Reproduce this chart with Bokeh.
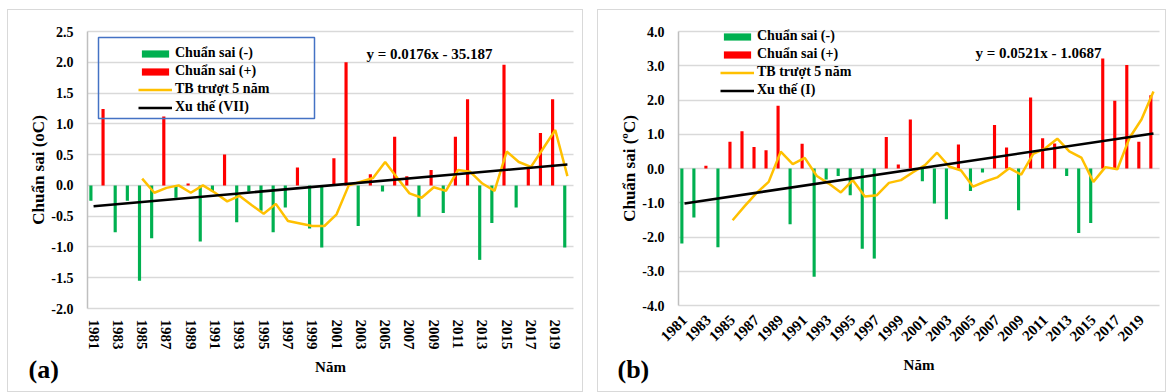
import math
from bokeh.plotting import figure
from bokeh.models import (FixedTicker, NumeralTickFormatter, Legend, LegendItem,
                          Label, BoxAnnotation, Range1d)
from bokeh.layouts import row
from bokeh.embed import file_html
from bokeh.resources import INLINE

# ---------------- data ----------------
years = list(range(1981, 2021))
tick_years = list(range(1981, 2020, 2))
ma_years = list(range(1985, 2021))

# panel (a) anomalies (oC)
anom_a = [-0.25, 1.24, -0.76, -0.25, -1.55, -0.86, 1.12, -0.20, 0.03, -0.91,
          -0.10, 0.50, -0.60, -0.10, -0.41, -0.76, -0.36, 0.29, -0.70, -1.01,
          0.44, 2.00, -0.66, 0.18, -0.10, 0.79, 0.15, -0.51, 0.25, -0.45,
          0.79, 1.40, -1.21, -0.61, 1.96, -0.36, 0.28, 0.85, 1.40, -1.01]
ma_a = [0.11, -0.12, -0.04, 0.00, -0.12, 0.00, -0.12, -0.26, -0.17, -0.32,
        -0.46, -0.30, -0.58, -0.62, -0.66, -0.66, -0.47, 0.00, 0.06, 0.12,
        0.38, 0.12, -0.13, -0.20, -0.03, -0.09, 0.25, 0.22, 0.03, -0.09,
        0.55, 0.38, 0.30, 0.60, 0.90, 0.15]
trend_a_years = [1981, 2020]
trend_a = [-0.34, 0.34]
eq_a = "y = 0.0176x - 35.187"

# panel (b) anomalies (ºC)
anom_b = [-2.19, -1.43, 0.08, -2.30, 0.78, 1.09, 0.63, 0.53, 1.83, -1.63,
          0.72, -3.16, -0.32, -0.22, -0.78, -2.34, -2.63, 0.92, 0.12, 1.43,
          -0.37, -1.02, -1.48, 0.70, -0.66, -0.12, 1.27, 0.61, -1.22, 2.07,
          0.88, 0.73, -0.22, -1.88, -1.59, 3.21, 1.98, 3.02, 0.78, 2.14]
ma_b = [-1.51, -1.10, -0.71, -0.39, 0.49, 0.13, 0.31, -0.22, -0.44, -0.70,
        -0.34, -0.82, -0.78, -0.42, -0.34, -0.11, 0.10, 0.46, 0.06, -0.06,
        -0.53, -0.38, -0.26, 0.01, -0.18, 0.43, 0.59, 0.87, 0.50, 0.32,
        -0.39, 0.04, -0.02, 0.89, 1.43, 2.25]
trend_b_years = [1981, 2020]
trend_b = [-1.02, 1.02]
eq_b = "y = 0.0521x - 1.0687"

yticks_a = [-2.0, -1.5, -1.0, -0.5, 0.0, 0.5, 1.0, 1.5, 2.0, 2.5]
yticks_b = [-4.0, -3.0, -2.0, -1.0, 0.0, 1.0, 2.0, 3.0, 4.0]

labels_a = ["Chuẩn sai (-)", "Chuẩn sai (+)", "TB trượt 5 năm", "Xu thế (VII)"]
labels_b = ["Chuẩn sai (-)", "Chuẩn sai (+)", "TB trượt 5 năm", "Xu thế (I)"]

FONT = "Liberation Serif"
GREEN = "#00b050"
RED = "#ff0000"
YELLOW = "#ffc000"
BAR_SHIFT = -0.22
X0, X1 = 1980.5, 2020.5      # category band edges
H = 383                      # canvas height of each panel


def make_panel(anom, ma, t_years, trend, yticks, ylabel, labels, eq, tag,
               width, plot_l, plot_r, plot_t, plot_b,
               orient, lab_standoff, xlab_standoff, leg_loc, eq_pos, tag_pos,
               box=None):
    # the frame covers the whole canvas; axes are drawn at fixed locations so
    # that every annotation (legend, panel tag) can sit anywhere un-clipped.
    xppu = (plot_r - plot_l) / (X1 - X0)
    yppu = (plot_b - plot_t) / (yticks[-1] - yticks[0])
    xr = Range1d(X0 - plot_l / xppu, X1 + (width - plot_r) / xppu)
    yr = Range1d(yticks[0] - (H - plot_b) / yppu, yticks[-1] + plot_t / yppu)

    p = figure(width=width, height=H, output_backend="svg",
               toolbar_location=None, x_range=xr, y_range=yr, min_border=0)
    p.outline_line_color = None
    p.background_fill_color = "white"
    p.border_fill_color = "white"

    p.xgrid.visible = False
    grid = p.ygrid[0]
    if "cross_bounds" in grid.properties():
        grid.ticker = FixedTicker(ticks=yticks)
        grid.cross_bounds = (X0, X1)
        grid.grid_line_color = "#d9d9d9"
        grid.grid_line_width = 1.5
    else:
        grid.visible = False
        p.segment(x0=[X0] * len(yticks), x1=[X1] * len(yticks), y0=yticks, y1=yticks,
                  line_color="#d9d9d9", line_width=1.5, level="underlay")

    p.yaxis.fixed_location = X0
    p.yaxis.ticker = FixedTicker(ticks=yticks)
    p.yaxis.bounds = (yticks[0], yticks[-1])
    p.yaxis.formatter = NumeralTickFormatter(format="0.0")
    p.yaxis.axis_line_color = "#bfbfbf"
    p.yaxis.axis_line_width = 1.5
    p.yaxis.major_tick_line_color = None
    p.yaxis.minor_tick_line_color = None
    p.yaxis.major_label_text_font = FONT
    p.yaxis.major_label_text_font_style = "bold"
    p.yaxis.major_label_text_font_size = "14px"
    p.yaxis.major_label_text_color = "black"
    p.yaxis.major_label_standoff = 8
    p.yaxis.axis_label = ylabel
    p.yaxis.axis_label_text_font = FONT
    p.yaxis.axis_label_text_font_style = "bold"
    p.yaxis.axis_label_text_font_size = "17px"
    p.yaxis.axis_label_text_color = "black"
    p.yaxis.axis_label_standoff = 0

    p.xaxis.fixed_location = yticks[0]
    p.xaxis.bounds = (X0, X1)
    p.xaxis.ticker = FixedTicker(ticks=tick_years)
    p.xaxis.axis_line_color = None
    p.xaxis.major_tick_line_color = None
    p.xaxis.minor_tick_line_color = None
    p.xaxis.major_label_orientation = orient
    p.xaxis.major_label_text_font = FONT
    p.xaxis.major_label_text_font_style = "bold"
    p.xaxis.major_label_text_font_size = "15px"
    p.xaxis.major_label_text_color = "black"
    p.xaxis.major_label_standoff = lab_standoff
    p.xaxis.axis_label = "Năm"
    p.xaxis.axis_label_text_font = FONT
    p.xaxis.axis_label_text_font_style = "bold"
    p.xaxis.axis_label_text_font_size = "15px"
    p.xaxis.axis_label_text_color = "black"
    p.xaxis.axis_label_standoff = xlab_standoff

    neg_x = [y + BAR_SHIFT for y, v in zip(years, anom) if v < 0]
    neg_v = [v for v in anom if v < 0]
    pos_x = [y + BAR_SHIFT for y, v in zip(years, anom) if v >= 0]
    pos_v = [v for v in anom if v >= 0]

    r_neg = p.vbar(x=neg_x, top=neg_v, bottom=0, width=0.26,
                   fill_color=GREEN, line_color=None)
    r_pos = p.vbar(x=pos_x, top=pos_v, bottom=0, width=0.26,
                   fill_color=RED, line_color=None)
    r_ma = p.line(ma_years, ma, line_color=YELLOW, line_width=2.5)
    r_tr = p.line(t_years, trend, line_color="black", line_width=2.6)

    legend = Legend(items=[LegendItem(label=labels[0], renderers=[r_neg]),
                           LegendItem(label=labels[1], renderers=[r_pos]),
                           LegendItem(label=labels[2], renderers=[r_ma]),
                           LegendItem(label=labels[3], renderers=[r_tr])],
                    location=leg_loc, border_line_color=None,
                    background_fill_alpha=0, padding=0, spacing=0, margin=0,
                    label_height=18, glyph_width=34, glyph_height=9,
                    label_standoff=3,
                    label_text_font=FONT, label_text_font_style="bold",
                    label_text_font_size="14px", label_text_color="black")
    p.add_layout(legend)

    if box is not None:
        p.add_layout(BoxAnnotation(left=box[0], right=box[1], bottom=box[2], top=box[3],
                                   left_units="screen", right_units="screen",
                                   bottom_units="screen", top_units="screen",
                                   fill_color=None, fill_alpha=0,
                                   line_color="#4472c4", line_alpha=1.0,
                                   line_width=1.5))

    p.add_layout(Label(x=eq_pos[0], y=eq_pos[1], x_units="screen", y_units="screen",
                       text=eq, text_align="center", text_baseline="middle",
                       text_font=FONT, text_font_style="bold", text_font_size="15px",
                       text_color="black"))
    p.add_layout(Label(x=tag_pos[0], y=tag_pos[1], x_units="screen", y_units="screen",
                       text=tag, text_align="left", text_baseline="middle",
                       text_font=FONT, text_font_style="bold", text_font_size="26px",
                       text_color="black"))

    p.styles = {"border": "1px solid #d9d9d9", "box-sizing": "border-box"}
    return p


# canvas of (a) starts at page (7, 9); plot band x 86..572, y 30..307 (page)
pa = make_panel(anom_a, ma_a, trend_a_years, trend_a, yticks_a, "Chuẩn sai (oC)",
                labels_a, eq_a, "(a)", 576, 79, 565, 21, 298,
                "vertical", 5, 6, (130, 277), (421, 340), (20, 24),
                box=(90, 306, 275, 356))
# canvas of (b) starts at page (597, 9); plot band x 677..1158, y 30..304 (page)
pb = make_panel(anom_b, ma_b, trend_b_years, trend_b, yticks_b, "Chuẩn sai (ºC)",
                labels_b, eq_b, "(b)", 569, 80, 561, 21, 295,
                math.pi / 4, 6, 8, (122, 294), (440, 341), (19, 24))
pa.margin = (9, 0, 0, 7)
pb.margin = (9, 0, 0, 14)

p = row(pa, pb)
open("out.html", "w").write(file_html(p, INLINE))
